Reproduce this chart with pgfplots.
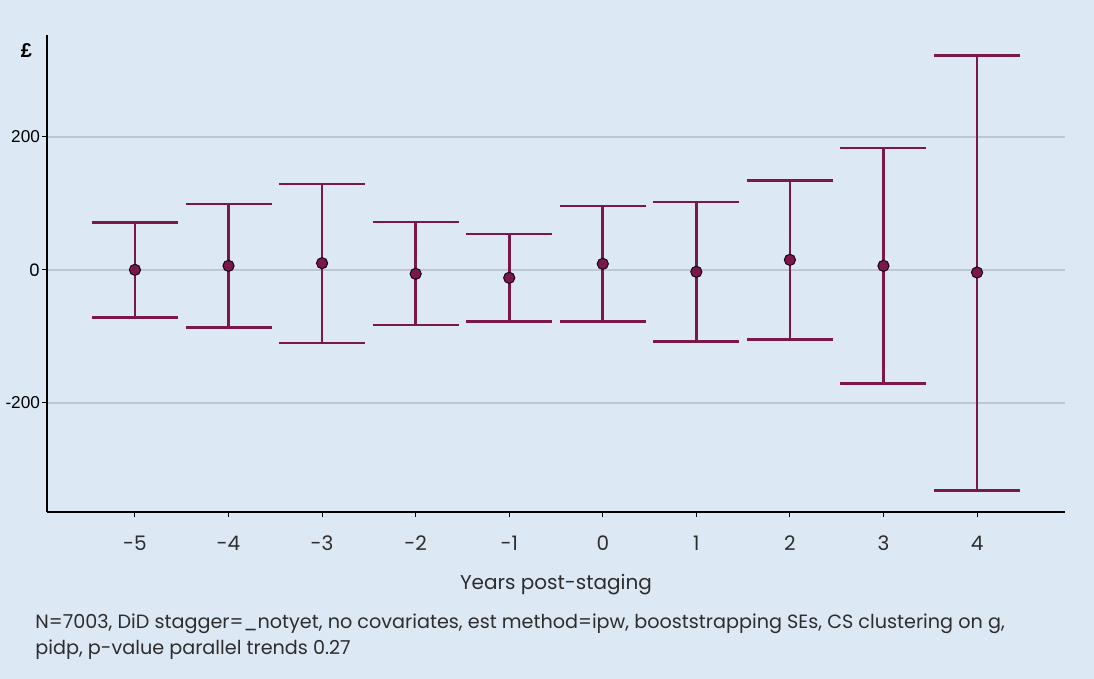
\documentclass[border=0pt]{standalone}
\usepackage{pgfplots}
\pgfplotsset{compat=1.18}
\usepackage{fontspec}
\setmainfont{Poppins}
\newfontfamily\arialf{Liberation Sans}
\definecolor{bg}{RGB}{221,232,245}
\definecolor{maroon}{RGB}{122,24,76}
\definecolor{gridc}{RGB}{190,198,208}
\definecolor{txt}{RGB}{45,45,45}
\pgfplotstableread{
x y ep em
-5 0 71 72
-4 6 93 93
-3 10 119 120
-2 -6 78 77
-1 -12 66 66
0 9 87 87
1 -3 105 105
2 15 119 120
3 6 177 177
4 -4 326 328
}\datatable
\begin{document}
\begin{tikzpicture}
\fill[bg] (-23.5pt,-83.5pt) rectangle (523.5pt,256pt);
\begin{axis}[
  at={(0,0)}, anchor=south west,
  scale only axis, width=509pt, height=238.5pt,
  xmin=-5.94, xmax=4.94, ymin=-364, ymax=353,
  axis x line*=bottom, axis y line*=left,
  axis line style={-, black, line width=0.7pt},
  xtick={-5,...,4},
  xticklabels={-5,-4,-3,-2,-1,0,1,2,3,4},
  ytick={-200,0,200},
  yticklabels={{\arialf -200},0,{\arialf 200}},
  tick style={black, line width=0.5pt},
  tick align=outside, major tick length=2.5pt,
  ymajorgrids, grid style={gridc, line width=1pt},
  x tick label style={font=\fontsize{10}{12}\selectfont, text=txt, yshift=-6pt},
  y tick label style={font=\fontsize{8.6}{10}\selectfont, text=black, xshift=2.5pt},
  /pgf/number format/assume math mode=true,
  xlabel={Years post-staging},
  xlabel style={font=\fontsize{10}{12}\selectfont, text=txt, yshift=-5pt},
  clip=false,
]
\addplot[only marks, mark=*, mark size=2.8pt,
  mark options={fill=maroon, draw=black!80!maroon, line width=0.5pt},
  error bars/.cd, y dir=both, y explicit, error mark=|,
  error bar style={maroon, line width=1.4pt},
  error mark options={maroon, line width=1.4pt, mark size=21.5pt}]
  table[x=x, y=y, y error plus=ep, y error minus=em] {\datatable};
\node[font=\arialf\bfseries\fontsize{10}{11}\selectfont, anchor=north east] at ([xshift=-4pt,yshift=-0.5pt]rel axis cs:0,1) {£};
\end{axis}
\node[anchor=north west, align=left, text=txt, font=\fontsize{9.6}{13}\selectfont, inner sep=0pt] at (-6pt,-50.5pt)
  {N=7003, DiD stagger=\_notyet, no covariates, est method=ipw, booststrapping SEs, CS clustering on g,\\ pidp, p-value parallel trends 0.27};
\pgfresetboundingbox
\path[use as bounding box] (-23.5pt,-83.5pt) rectangle (523.5pt,256pt);
\end{tikzpicture}
\end{document}
